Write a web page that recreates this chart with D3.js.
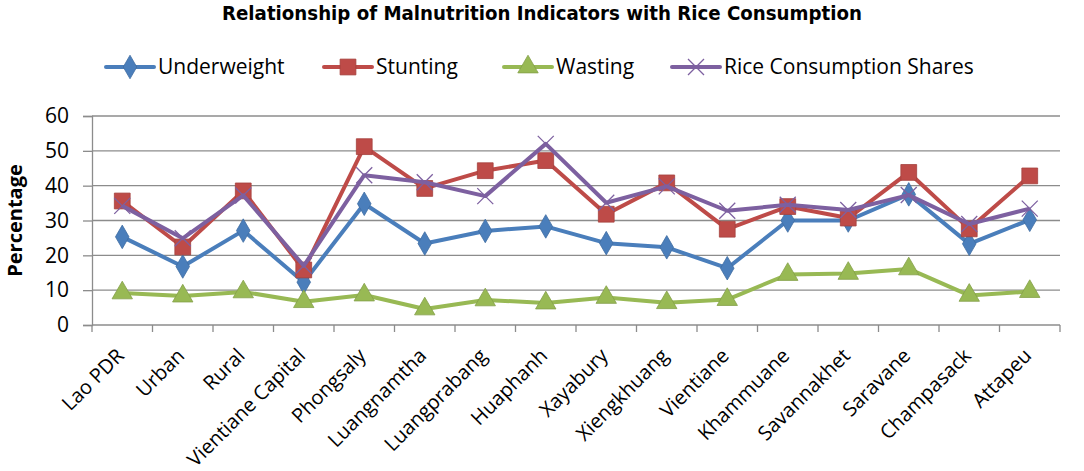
<!DOCTYPE html>
<html>
<head>
<meta charset="utf-8">
<script src="https://cdn.jsdelivr.net/npm/d3@7"></script>
<style>
  body { margin: 0; background: #fff; }
  svg text { font-family: "Open Sans", "DejaVu Sans", sans-serif; fill: #000; }
</style>
</head>
<body>
<svg id="chart"></svg>
<script>
const width = 1084;
const height = 471;

const regions = ["Lao PDR", "Urban", "Rural", "Vientiane Capital", "Phongsaly", "Luangnamtha",
  "Luangprabang", "Huaphanh", "Xayabury", "Xiengkhuang", "Vientiane", "Khammuane",
  "Savannakhet", "Saravane", "Champasack", "Attapeu"];

const underweight = [25.3, 16.8, 27.1, 12.3, 34.8, 23.4, 27.0, 28.3, 23.5, 22.3, 16.3, 30.0, 30.0, 37.5, 23.3, 30.2];
const stunting = [35.6, 22.4, 38.5, 15.8, 51.2, 39.2, 44.3, 47.2, 31.8, 40.8, 27.5, 34.0, 30.7, 43.8, 27.6, 42.8];
const wasting = [9.2, 8.3, 9.5, 6.7, 8.6, 4.6, 7.2, 6.3, 7.9, 6.4, 7.3, 14.5, 14.8, 16.1, 8.5, 9.6];
const riceShares = [34.2, 24.9, 37.2, 17.0, 43.0, 41.0, 37.0, 52.0, 35.1, 39.8, 32.8, 34.5, 33.0, 37.3, 29.0, 33.4];

const yTicks = [0, 10, 20, 30, 40, 50, 60];

const series = [
  { name: "Underweight", values: underweight, color: "#4A7EBB", marker: "diamond" },
  { name: "Stunting", values: stunting, color: "#BE4B48", marker: "square" },
  { name: "Wasting", values: wasting, color: "#98B954", marker: "triangle" },
  { name: "Rice Consumption Shares", values: riceShares, color: "#7D60A0", marker: "cross" }
];

const margin = { top: 116, right: 24, bottom: 146, left: 92 };

const svg = d3.select("#chart")
  .attr("width", width)
  .attr("height", height);

const x = d3.scaleBand()
  .domain(regions)
  .range([margin.left, width - margin.right]);

const y = d3.scaleLinear()
  .domain([0, 60])
  .range([height - margin.bottom, margin.top]);

// gridlines
svg.append("g")
  .selectAll("line")
  .data(yTicks.filter(d => d > 0))
  .enter()
  .append("line")
  .attr("x1", margin.left)
  .attr("x2", width - margin.right)
  .attr("y1", d => y(d))
  .attr("y2", d => y(d))
  .attr("stroke", "#8c8c8c")
  .attr("stroke-width", 1.3);

// Y axis
const yAxis = svg.append("g")
  .attr("transform", `translate(${margin.left},0)`)
  .call(d3.axisLeft(y).tickValues(yTicks).tickSize(9).tickPadding(14));
yAxis.select(".domain").attr("stroke", "#8c8c8c").attr("stroke-width", 1.3);
yAxis.selectAll(".tick line").attr("stroke", "#8c8c8c").attr("stroke-width", 1.3);
yAxis.selectAll(".tick text").style("font-size", "21px");

// X axis, ticks sit between categories
const xAxisG = svg.append("g")
  .attr("transform", `translate(0,${y(0)})`);
xAxisG.append("line")
  .attr("x1", margin.left)
  .attr("x2", width - margin.right)
  .attr("stroke", "#8c8c8c")
  .attr("stroke-width", 1.3);
xAxisG.selectAll(".sep")
  .data(regions.concat([null]))
  .enter()
  .append("line")
  .attr("x1", (d, i) => margin.left + i * x.step())
  .attr("x2", (d, i) => margin.left + i * x.step())
  .attr("y1", 0)
  .attr("y2", 7)
  .attr("stroke", "#8c8c8c")
  .attr("stroke-width", 1.3);
xAxisG.selectAll(".lbl")
  .data(regions)
  .enter()
  .append("text")
  .attr("transform", d => `translate(${x(d) + x.bandwidth() / 2 - 2},${27}) rotate(-45)`)
  .attr("text-anchor", "end")
  .attr("dy", "0.35em")
  .style("font-size", "20px")
  .text(d => d);

// Y label
svg.append("text")
  .attr("transform", `translate(15,${(y(0) + y(60)) / 2}) rotate(-90)`)
  .attr("text-anchor", "middle")
  .attr("dy", "0.35em")
  .style("font-size", "20px")
  .style("font-weight", "bold")
  .text("Percentage");

// Title
svg.append("text")
  .attr("x", 542)
  .attr("y", 20)
  .attr("text-anchor", "middle")
  .attr("textLength", 640)
  .attr("lengthAdjust", "spacingAndGlyphs")
  .style("font-family", "'DejaVu Sans Condensed', 'Open Sans', sans-serif")
  .style("font-size", "20px")
  .style("font-weight", "bold")
  .text("Relationship of Malnutrition Indicators with Rice Consumption");

const markerPath = {
  diamond: d3.symbol().type(d3.symbolDiamond).size(160)(),
  square: d3.symbol().type(d3.symbolSquare).size(250)(),
  triangle: d3.symbol().type(d3.symbolTriangle).size(180)(),
  cross: "M-8,-8L8,8M-8,8L8,-8"
};

function drawMarker(g, s) {
  const p = g.append("path").attr("d", markerPath[s.marker]);
  if (s.marker === "cross") {
    p.attr("fill", "none").attr("stroke", s.color).attr("stroke-width", 1.3);
  } else {
    p.attr("fill", s.color).attr("stroke", d3.color(s.color).darker(0.4)).attr("stroke-width", 0.8);
  }
}

const line = d3.line()
  .x((d, i) => x(regions[i]) + x.bandwidth() / 2)
  .y(d => y(d));

series.forEach(s => {
  const g = svg.append("g");
  g.append("path")
    .datum(s.values)
    .attr("fill", "none")
    .attr("stroke", s.color)
    .attr("stroke-width", 4)
    .attr("stroke-linejoin", "round")
    .attr("d", line);
  s.values.forEach((v, i) => {
    const m = g.append("g")
      .attr("transform", `translate(${x(regions[i]) + x.bandwidth() / 2},${y(v)})`);
    drawMarker(m, s);
  });
});

// Legend
const legendX = [106, 324, 504, 672];
const legend = svg.append("g").attr("transform", "translate(0,67)");
series.forEach((s, i) => {
  const g = legend.append("g").attr("transform", `translate(${legendX[i]},0)`);
  g.append("line")
    .attr("x1", 0).attr("x2", 48)
    .attr("stroke", s.color)
    .attr("stroke-width", 4)
    .attr("stroke-linecap", "round");
  const m = g.append("g").attr("transform", "translate(24,0)");
  drawMarker(m, s);
  g.append("text")
    .attr("x", 52)
    .attr("dy", "0.35em")
    .style("font-size", "21px")
    .text(s.name);
});
</script>
</body>
</html>
